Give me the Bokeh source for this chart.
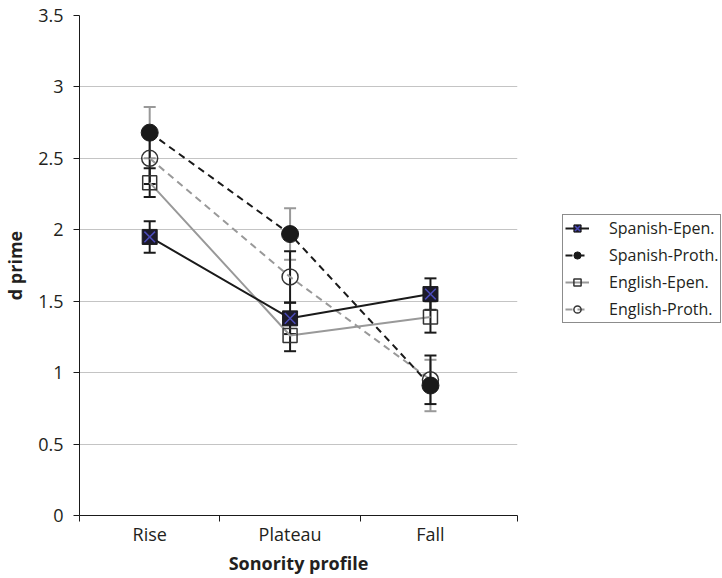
from bokeh.plotting import figure
from bokeh.models import (ColumnDataSource, Range1d, FixedTicker, Whisker, TeeHead,
                          Legend, LegendItem)
from bokeh.embed import file_html
from bokeh.resources import INLINE

# Sonority profiles along the x axis
categories = ["Rise", "Plateau", "Fall"]
xpos = [0, 1, 2]

# Mean d prime per group and sonority profile
spanish_epen = [1.95, 1.38, 1.55]
spanish_proth = [2.68, 1.97, 0.91]
english_epen = [2.33, 1.26, 1.39]
english_proth = [2.50, 1.67, 0.95]

# Error bar half-widths
spanish_epen_err = [0.11, 0.11, 0.11]
spanish_proth_err = [0.18, 0.18, 0.18]
english_epen_err = [0.10, 0.11, 0.11]
english_proth_err = [0.18, 0.18, 0.17]

y_ticks = [0, 0.5, 1, 1.5, 2, 2.5, 3, 3.5]
y_tick_labels = ["0", "0.5", "1", "1.5", "2", "2.5", "3", "3.5"]

FONT = "Open Sans"
BLACK = "#1a1a1a"
GREY = "#999999"
TEXT = "#231f20"

p = figure(frame_width=438, frame_height=500, output_backend="svg", toolbar_location=None,
           x_range=Range1d(-0.5, 2.62), y_range=Range1d(0, 3.5),
           min_border_left=79, min_border_right=45, min_border_top=15,
           min_border_bottom=63)
p.outline_line_color = None
p.background_fill_color = "white"
p.border_fill_color = "white"

# Axes
p.xaxis.ticker = FixedTicker(ticks=xpos, minor_ticks=[-0.5, 0.5, 1.5, 2.62])
p.xaxis.major_label_overrides = {x: c for x, c in zip(xpos, categories)}
p.xaxis.major_tick_out = 0
p.xaxis.major_tick_in = 0
p.xaxis.minor_tick_out = 6
p.xaxis.minor_tick_in = 0
p.xaxis.minor_tick_line_color = BLACK
p.xaxis.axis_line_color = BLACK
p.xaxis.major_label_standoff = 0
p.xaxis.axis_label = "Sonority profile"

p.yaxis.ticker = FixedTicker(ticks=y_ticks)
p.yaxis.major_label_overrides = {t: l for t, l in zip(y_ticks, y_tick_labels)}
p.yaxis.major_tick_out = 6
p.yaxis.major_tick_in = 0
p.yaxis.minor_tick_out = 0
p.yaxis.minor_tick_in = 0
p.yaxis.axis_line_color = BLACK
p.yaxis.major_tick_line_color = BLACK
p.yaxis.major_label_standoff = 10
p.yaxis.axis_label = "d prime"

for ax in (p.xaxis[0], p.yaxis[0]):
    ax.major_label_text_font = FONT
    ax.major_label_text_font_size = "18px"
    ax.major_label_text_color = TEXT
    ax.axis_label_text_font = FONT
    ax.axis_label_text_font_size = "18px"
    ax.axis_label_text_font_style = "bold"
    ax.axis_label_text_color = TEXT
p.xaxis.axis_label_standoff = 2
p.yaxis.axis_label_standoff = 8

p.xgrid.grid_line_color = None
p.ygrid.ticker = FixedTicker(ticks=y_ticks[1:])
p.ygrid.grid_line_color = "#c4c4c4"
p.ygrid.grid_line_width = 1


def series_source(vals, errs):
    return ColumnDataSource(dict(
        x=xpos, y=vals,
        lower=[v - e for v, e in zip(vals, errs)],
        upper=[v + e for v, e in zip(vals, errs)],
    ))


src_se = series_source(spanish_epen, spanish_epen_err)
src_sp = series_source(spanish_proth, spanish_proth_err)
src_ee = series_source(english_epen, english_epen_err)
src_ep = series_source(english_proth, english_proth_err)

# Connecting lines
l_ee = p.line("x", "y", source=src_ee, line_color=GREY, line_width=2)
l_ep = p.line("x", "y", source=src_ep, line_color=GREY, line_width=2, line_dash="7 5")
l_se = p.line("x", "y", source=src_se, line_color=BLACK, line_width=2)
l_sp = p.line("x", "y", source=src_sp, line_color=BLACK, line_width=2, line_dash="7 5")


# Error bars
def add_whisker(src, color):
    w = Whisker(source=src, base="x", lower="lower", upper="upper",
                line_color=color, line_width=2,
                upper_head=TeeHead(size=12, line_color=color, line_width=2),
                lower_head=TeeHead(size=12, line_color=color, line_width=2))
    p.add_layout(w)


add_whisker(src_sp, GREY)
add_whisker(src_ep, BLACK)
add_whisker(src_ee, BLACK)
add_whisker(src_se, BLACK)

# Markers
m_ee = p.scatter("x", "y", source=src_ee, marker="square", size=14,
                 fill_alpha=0, line_color="#333333", line_width=1.5)
m_ep = p.scatter("x", "y", source=src_ep, marker="circle", size=16,
                 fill_alpha=0, line_color="#333333", line_width=1.5)
m_sp = p.scatter("x", "y", source=src_sp, marker="circle", size=17,
                 fill_color=BLACK, line_color=BLACK, line_width=1)
m_se = p.scatter("x", "y", source=src_se, marker="square", size=15,
                 fill_color="#1c1a2a", line_color=BLACK, line_width=1)
m_sx = p.scatter("x", "y", source=src_se, marker="x", size=15,
                 line_color="#4a4ab8", line_width=1.5)

legend = Legend(items=[
    LegendItem(label="Spanish-Epen.", renderers=[l_se, m_se, m_sx]),
    LegendItem(label="Spanish-Proth.", renderers=[l_sp, m_sp]),
    LegendItem(label="English-Epen.", renderers=[l_ee, m_ee]),
    LegendItem(label="English-Proth.", renderers=[l_ep, m_ep]),
], location=(45, 192))
legend.border_line_color = BLACK
legend.border_line_width = 1
legend.background_fill_color = "white"
legend.padding = 2
legend.margin = 0
legend.spacing = 5
legend.glyph_width = 24
legend.glyph_height = 18
legend.label_standoff = 20
legend.label_height = 18
legend.label_text_font = FONT
legend.label_text_font_size = "16px"
legend.label_text_color = TEXT
p.add_layout(legend, "right")

open("out.html", "w").write(file_html(p, INLINE))
